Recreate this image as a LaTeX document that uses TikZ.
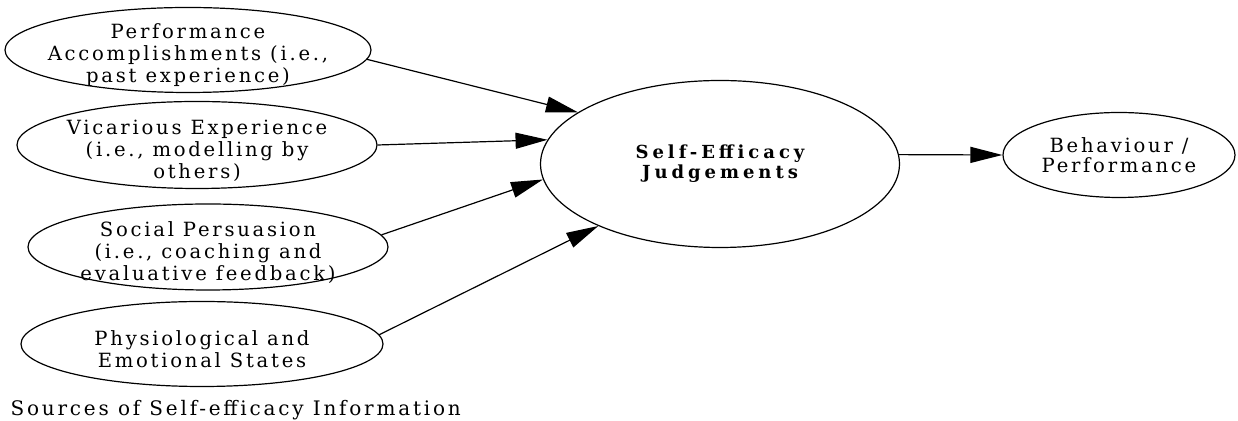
\documentclass[tikz,border=0pt]{standalone}
\usepackage{fontspec}
\setmainfont{DejaVu Serif}[LetterSpace=14]
\newfontfamily\judgefont{DejaVu Serif}[LetterSpace=22]
\usetikzlibrary{shapes.geometric,arrows.meta}

\begin{document}
\begin{tikzpicture}[x=0.5pt, y=-0.5pt, line width=0.6pt,
        >={Triangle[length=16pt,width=8pt]},
        source/.style={draw, ellipse, inner xsep=-16pt, inner ysep=-6pt, align=center, font=\fontsize{9.8}{11}\selectfont},
        judge/.style={draw, ellipse, inner sep=0pt, align=center, font=\judgefont\bfseries\fontsize{9}{8.8}\selectfont},
        outcome/.style={draw, ellipse, inner sep=0pt, align=center, font=\fontsize{9.8}{9.8}\selectfont}]
    \useasboundingbox (0,0) rectangle (1238,421);
    % four sources
    \node[source, minimum width=183pt, minimum height=42.5pt] (perf) at (188,50) {\\[2pt]Performance\\Accomplishments (i.e.,\\past experience)};
    \node[source, minimum width=180pt, minimum height=43.5pt] (vic) at (197,145) {\\[2pt]Vicarious Experience\\(i.e., modelling by\\others)};
    \node[source, minimum width=180pt, minimum height=43pt] (soc) at (208,247) {\\[2pt]Social Persuasion\\(i.e., coaching and\\evaluative feedback)};
    \node[source, minimum width=181pt, minimum height=42.5pt] (phys) at (202,344) {\\[2pt]Physiological and\\Emotional States};
    % judgements and outcome
    \node[judge, minimum width=179.5pt, minimum height=83.5pt] (sej) at (720,164) {Self-Efficacy\\Judgements};
    \node[outcome, minimum width=116pt, minimum height=42.5pt] (beh) at (1119,155) {Behaviour /\\Performance};
    \node[anchor=base west, inner sep=0pt, font=\fontsize{10}{10}\selectfont] (src) at (10,416) {Sources of Self-efficacy Information};
    % arrows
    \draw[->] (perf.-3) -- (sej.160);
    \draw[->] (vic.east) -- (sej.172);
    \draw[->] (soc.4) -- (sej.185);
    \draw[->] (phys.3) -- (sej.207);
    \draw[->] (sej.3) -- (beh.west);
\end{tikzpicture}
\end{document}
